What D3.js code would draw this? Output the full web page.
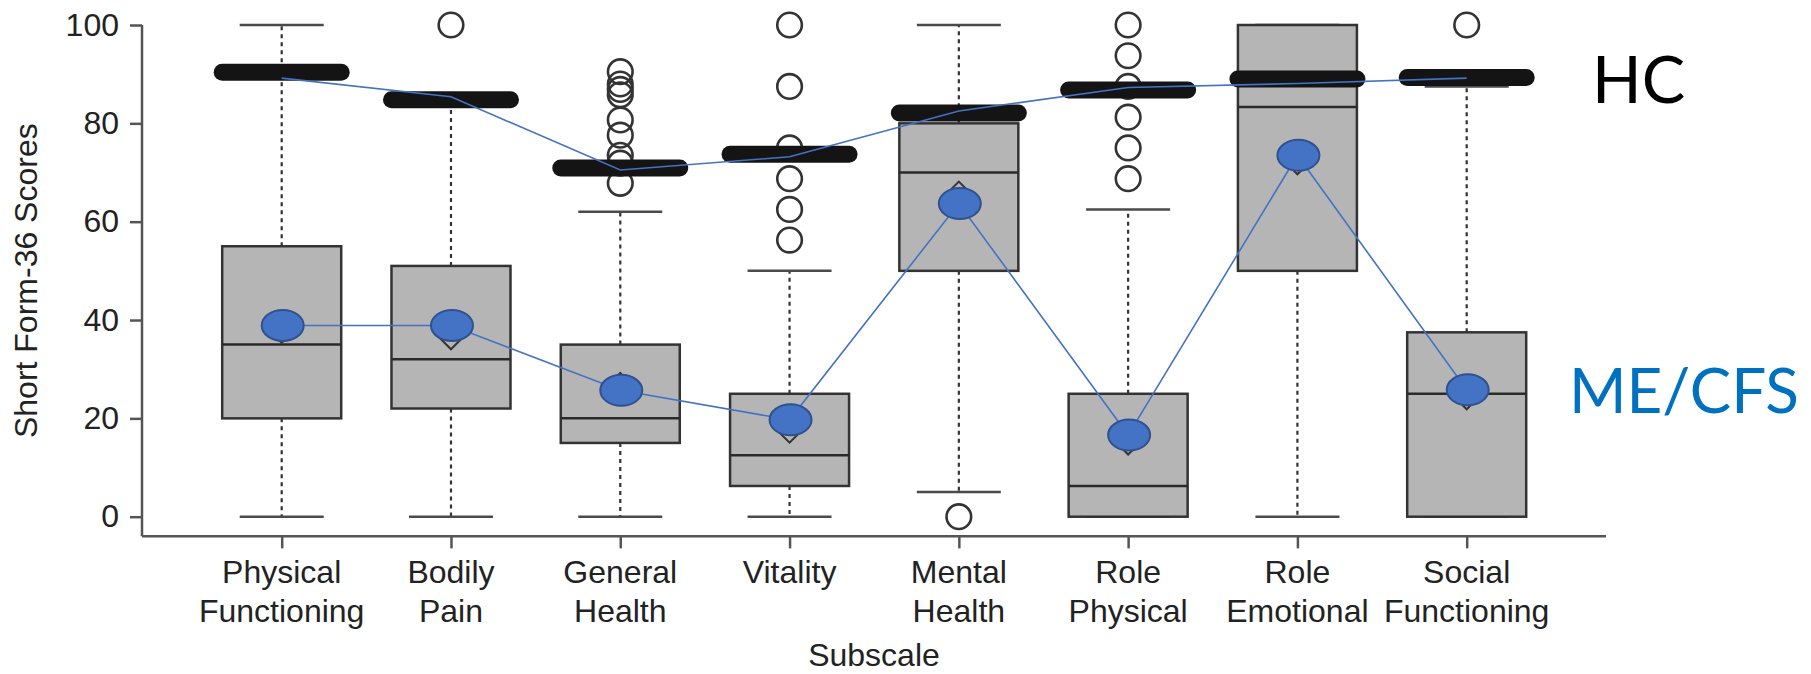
<!DOCTYPE html>
<html><head><meta charset="utf-8">
<script src="https://cdn.jsdelivr.net/npm/d3@7"></script>
<style>body{margin:0;background:#fff}svg{display:block}</style>
</head><body><svg id="c" width="1811" height="674"></svg>
<script>
const categories = ["Physical Functioning","Bodily Pain","General Health","Vitality","Mental Health","Role Physical","Role Emotional","Social Functioning"];
const labelLines = [["Physical","Functioning"],["Bodily","Pain"],["General","Health"],["Vitality"],["Mental","Health"],["Role","Physical"],["Role","Emotional"],["Social","Functioning"]];
const yTicks = [0,20,40,60,80,100];
// ME/CFS box plots
const meWhiskerLow  = [0, 0, 0, 0, 5, 0, 0, 0];
const meQ1          = [20, 22, 15, 6.25, 50, 0, 50, 0];
const meMedian      = [35, 32, 20, 12.5, 70, 6.25, 83.33, 25];
const meQ3          = [55, 51, 35, 25, 80, 25, 100, 37.5];
const meWhiskerHigh = [100, 84, 62, 50, 100, 62.5, 100, 87.5];
const meMean        = [38.2, 36.9, 26.4, 17.9, 65.3, 15.5, 72.5, 24.7];
const meOutliers = [[], [100], [90.5, 88, 86.9, 85.8, 80.7, 77.6, 73.5, 71.9, 67.8], [100, 87.5, 75, 68.75, 62.5, 56.25], [0], [100, 93.75, 87.5, 81.25, 75, 68.75], [], [100]];
// Healthy controls (compressed boxes)
const hcMedian = [90.4, 84.8, 70.9, 73.7, 82.1, 86.8, 89.0, 89.3];
// Overlay trend lines
const hcTrend = [89.2, 85.4, 70.5, 73.2, 82.5, 87.3, 88.1, 89.2];
const meTrend = [38.9, 38.9, 25.7, 19.7, 63.7, 16.6, 73.5, 25.8];
const groupLabels = ["HC", "ME/CFS"];

const svg = d3.select("#c");
svg.append("rect").attr("width",1811).attr("height",674).attr("fill","#fff");
const x = d3.scalePoint().domain(categories).range([281.7, 1466.7]);
const y = d3.scaleLinear().domain([0, 100]).range([516.7, 25]);
const boxW = 119, capW = 84;
const font = "'Liberation Sans', Arial, Helvetica, sans-serif";
const ink = "#222";
const axisCol = "#555";
const xLeft = 142, xRight = 1606;

// Axis frame (L shape)
svg.append("line").attr("x1", xLeft).attr("x2", xLeft).attr("y1", y(100)).attr("y2", y(-4))
  .attr("stroke", axisCol).attr("stroke-width", 2.5);
svg.append("line").attr("x1", xLeft).attr("x2", xRight).attr("y1", y(-4)).attr("y2", y(-4))
  .attr("stroke", axisCol).attr("stroke-width", 2.5);

// Y axis
const yAxis = svg.append("g").attr("transform", `translate(${xLeft},0)`)
  .call(d3.axisLeft(y).tickValues(yTicks).tickSize(12).tickPadding(11));
yAxis.select(".domain").remove();
yAxis.selectAll(".tick line").attr("stroke", axisCol).attr("stroke-width", 2.5);
yAxis.selectAll(".tick text").attr("font-family", font).attr("font-size", 32).attr("fill", ink);

// X axis
const xAxis = svg.append("g").attr("transform", `translate(0,${y(-4)})`)
  .call(d3.axisBottom(x).tickSize(12).tickFormat(""));
xAxis.select(".domain").remove();
xAxis.selectAll(".tick line").attr("stroke", axisCol).attr("stroke-width", 2.5);
categories.forEach((c, i) => {
  const t = svg.append("text").attr("x", x(c)).attr("y", 583).attr("text-anchor", "middle")
    .attr("font-family", font).attr("font-size", 32).attr("fill", ink);
  labelLines[i].forEach((ln, j) => t.append("tspan").attr("x", x(c)).attr("dy", j === 0 ? 0 : 39).text(ln));
});

// Axis titles
svg.append("text").attr("x", (xLeft + xRight) / 2).attr("y", 666).attr("text-anchor", "middle")
  .attr("font-family", font).attr("font-size", 32).attr("fill", ink).text("Subscale");
svg.append("text").attr("transform", `translate(37,${(y(100) + y(-4)) / 2}) rotate(-90)`)
  .attr("text-anchor", "middle").attr("font-family", font).attr("font-size", 32).attr("fill", ink)
  .text("Short Form-36 Scores");

// ME/CFS boxplots
const gBox = svg.append("g");
categories.forEach((c, i) => {
  const cx = x(c);
  gBox.append("line").attr("x1", cx).attr("x2", cx).attr("y1", y(meQ3[i])).attr("y2", y(meWhiskerHigh[i]))
    .attr("stroke", "#333").attr("stroke-width", 2.2).attr("stroke-dasharray", "4,4");
  gBox.append("line").attr("x1", cx).attr("x2", cx).attr("y1", y(meQ1[i])).attr("y2", y(meWhiskerLow[i]))
    .attr("stroke", "#333").attr("stroke-width", 2.2).attr("stroke-dasharray", "4,4");
  [meWhiskerHigh[i], meWhiskerLow[i]].forEach(v => {
    gBox.append("line").attr("x1", cx - capW / 2).attr("x2", cx + capW / 2).attr("y1", y(v)).attr("y2", y(v))
      .attr("stroke", "#4a4a4a").attr("stroke-width", 2.5);
  });
  gBox.append("rect").attr("x", cx - boxW / 2).attr("width", boxW)
    .attr("y", y(meQ3[i])).attr("height", y(meQ1[i]) - y(meQ3[i]))
    .attr("fill", "#b5b5b5").attr("stroke", "#333").attr("stroke-width", 2.5);
  gBox.append("line").attr("x1", cx - boxW / 2).attr("x2", cx + boxW / 2)
    .attr("y1", y(meMedian[i])).attr("y2", y(meMedian[i])).attr("stroke", "#2a2a2a").attr("stroke-width", 2.5);
  const s = 14;
  gBox.append("path").attr("d", `M0,${-s}L${s},0L0,${s}L${-s},0Z`)
    .attr("transform", `translate(${cx},${y(meMean[i])})`)
    .attr("fill", "none").attr("stroke", "#333").attr("stroke-width", 2);
  meOutliers[i].forEach(v => {
    gBox.append("circle").attr("cx", cx).attr("cy", y(v)).attr("r", 12.3)
      .attr("fill", "none").attr("stroke", "#333").attr("stroke-width", 2.6);
  });
});

// HC compressed boxes (thick black bars)
const gHC = svg.append("g");
categories.forEach((c, i) => {
  gHC.append("line").attr("x1", x(c) - boxW / 2).attr("x2", x(c) + boxW / 2)
    .attr("y1", y(hcMedian[i])).attr("y2", y(hcMedian[i]))
    .attr("stroke", "#141414").attr("stroke-width", 17).attr("stroke-linecap", "round");
});

// Overlay trend lines
const line = d3.line().x((d, i) => x(categories[i])).y(d => y(d));
svg.append("path").attr("d", line(hcTrend)).attr("fill", "none").attr("stroke", "#4472C4").attr("stroke-width", 1.6);
svg.append("path").attr("d", line(meTrend)).attr("fill", "none").attr("stroke", "#4472C4").attr("stroke-width", 1.6);
svg.append("g").selectAll("ellipse").data(meTrend).join("ellipse")
  .attr("cx", (d, i) => x(categories[i]) + 1).attr("cy", d => y(d))
  .attr("rx", 21).attr("ry", 15.5)
  .attr("fill", "#4472C4").attr("stroke", "#2F528F").attr("stroke-width", 2);

// Group labels
svg.append("text").attr("x", 1592).attr("y", 103).attr("font-family", "Lato, 'Open Sans', sans-serif")
  .attr("font-size", 65).attr("fill", "#000").text(groupLabels[0]);
svg.append("text").attr("x", 1569).attr("y", 413).attr("font-family", "Lato, 'Open Sans', sans-serif")
  .attr("font-size", 62).attr("fill", "#0070C0").text(groupLabels[1]);
</script>
</body></html>
